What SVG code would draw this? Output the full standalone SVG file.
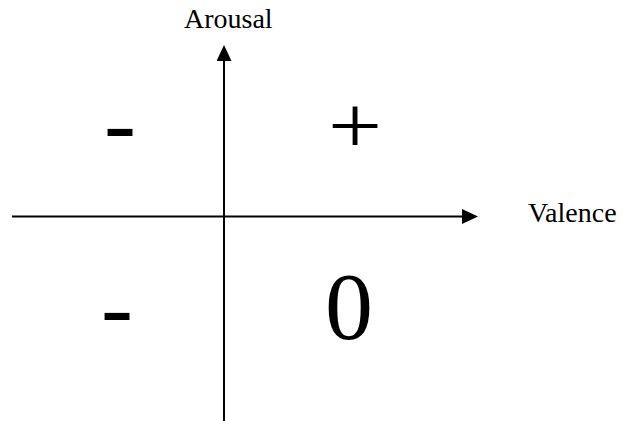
<svg xmlns="http://www.w3.org/2000/svg" width="626" height="421" viewBox="0 0 626 421">
<style>
.t{font-family:"Liberation Serif","Times New Roman",serif;fill:#000}
.lbl{font-size:28px}
.big{font-size:96px}
.ax{stroke:#000;stroke-width:2;fill:none}
</style>
<defs>
<marker id="ah" markerUnits="userSpaceOnUse" markerWidth="16" markerHeight="16" refX="0" refY="7.5" orient="auto">
<path d="M0,0 L16,7.5 L0,15 Z" fill="#000"/>
</marker>
</defs>
<rect width="626" height="421" fill="#fff"/>
<g id="connectors">
<line class="ax" x1="12" y1="216.5" x2="462" y2="216.5" marker-end="url(#ah)"/>
<line class="ax" x1="224" y1="421" x2="224" y2="61" marker-end="url(#ah)"/>
</g>
<g id="arousal"><text class="t lbl" x="184" y="28">Arousal</text></g>
<g id="valence"><text class="t lbl" x="528" y="222">Valence</text></g>
<g id="q-top-left"><text class="t big" x="104" y="155">-</text></g>
<g id="q-top-right"><text class="t big" transform="translate(328,153) scale(1,0.85)" x="0" y="0">+</text></g>
<g id="q-bottom-left"><text class="t big" x="101" y="339">-</text></g>
<g id="q-bottom-right"><text class="t big" x="325" y="339">0</text></g>
</svg>
